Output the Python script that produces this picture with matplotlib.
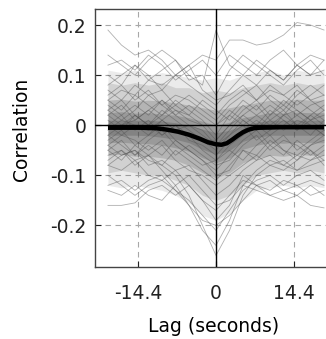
import numpy as np
import matplotlib
matplotlib.use('Agg')
import matplotlib.pyplot as plt

plt.rcParams['font.family'] = ['DejaVu Sans']
plt.rcParams['axes.unicode_minus'] = False

# lag grid (seconds) for the individual traces
lags = [-20, -17.5, -15, -12.5, -10, -7.5, -5, -2.5, 0, 2.5, 5, 7.5, 10, 12.5, 15, 17.5, 20]

# density bands of the trace cloud (outer to inner)
wide_hi = [0.11, 0.105, 0.11, 0.10, 0.105, 0.10, 0.095, 0.09, 0.095, 0.09, 0.10, 0.105, 0.11, 0.10, 0.11, 0.105, 0.11]
wide_lo = [-0.12, -0.125, -0.12, -0.125, -0.13, -0.14, -0.155, -0.18, -0.19, -0.175, -0.15, -0.13, -0.125, -0.12, -0.125, -0.12, -0.125]
outer_hi = [0.085, 0.08, 0.085, 0.08, 0.085, 0.075, 0.075, 0.065, 0.07, 0.065, 0.075, 0.08, 0.085, 0.08, 0.085, 0.08, 0.085]
outer_lo = [-0.095, -0.09, -0.095, -0.10, -0.10, -0.11, -0.12, -0.14, -0.15, -0.14, -0.12, -0.10, -0.095, -0.09, -0.095, -0.09, -0.095]
mid_hi = [0.05, 0.052, 0.048, 0.05, 0.048, 0.045, 0.04, 0.035, 0.03, 0.035, 0.04, 0.045, 0.05, 0.048, 0.052, 0.05, 0.05]
mid_lo = [-0.06, -0.058, -0.062, -0.062, -0.065, -0.07, -0.08, -0.095, -0.105, -0.095, -0.075, -0.065, -0.06, -0.062, -0.058, -0.06, -0.06]
core_hi = [0.025, 0.027, 0.024, 0.025, 0.022, 0.02, 0.015, 0.008, 0.0, 0.006, 0.015, 0.02, 0.025, 0.024, 0.026, 0.025, 0.025]
core_lo = [-0.035, -0.034, -0.036, -0.037, -0.04, -0.045, -0.052, -0.065, -0.075, -0.065, -0.048, -0.04, -0.035, -0.036, -0.034, -0.035, -0.035]
inner_hi = [0.01, 0.01, 0.01, 0.01, 0.008, 0.005, 0.0, -0.008, -0.015, -0.01, 0.0, 0.006, 0.01, 0.01, 0.01, 0.01, 0.01]
inner_lo = [-0.02, -0.02, -0.02, -0.021, -0.024, -0.028, -0.035, -0.048, -0.058, -0.05, -0.032, -0.024, -0.02, -0.02, -0.02, -0.02, -0.02]

# individual traces
traces = [
    [0.19, 0.16, 0.14, 0.15, 0.13, 0.10, 0.12, 0.07, 0.05, 0.06, 0.08, 0.05, 0.07, 0.06, 0.08, 0.05, 0.06],
    [0.05, 0.07, 0.06, 0.09, 0.08, 0.10, 0.12, 0.14, 0.13, 0.17, 0.17, 0.16, 0.165, 0.18, 0.205, 0.20, 0.19],
    [0.08, 0.10, 0.12, 0.09, 0.11, 0.13, 0.10, 0.08, 0.19, 0.12, 0.10, 0.13, 0.11, 0.09, 0.12, 0.10, 0.13],
    [0.12, 0.13, 0.11, 0.14, 0.12, 0.09, 0.11, 0.13, 0.10, 0.14, 0.12, 0.10, 0.13, 0.15, 0.12, 0.14, 0.13],
    [0.10, 0.08, 0.12, 0.10, 0.07, 0.10, 0.08, 0.06, 0.04, 0.07, 0.10, 0.08, 0.11, 0.09, 0.12, 0.10, 0.11],
    [0.14, 0.12, 0.10, 0.13, 0.15, 0.13, 0.09, 0.10, 0.06, 0.11, 0.14, 0.12, 0.10, 0.08, 0.11, 0.13, 0.10],
    [-0.04, -0.06, -0.05, -0.07, -0.08, -0.10, -0.14, -0.20, -0.26, -0.21, -0.14, -0.10, -0.08, -0.07, -0.09, -0.08, -0.07],
    [-0.06, -0.05, -0.07, -0.06, -0.09, -0.12, -0.16, -0.21, -0.24, -0.19, -0.12, -0.09, -0.07, -0.08, -0.06, -0.07, -0.05],
    [-0.08, -0.09, -0.07, -0.10, -0.11, -0.13, -0.15, -0.18, -0.21, -0.17, -0.13, -0.11, -0.10, -0.12, -0.10, -0.09, -0.11],
    [-0.16, -0.16, -0.155, -0.13, -0.12, -0.14, -0.12, -0.15, -0.17, -0.14, -0.11, -0.12, -0.13, -0.11, -0.12, -0.14, -0.13],
    [-0.13, -0.14, -0.12, -0.14, -0.15, -0.12, -0.10, -0.13, -0.16, -0.15, -0.12, -0.13, -0.14, -0.15, -0.14, -0.16, -0.165],
    [-0.12, -0.11, -0.13, -0.11, -0.10, -0.13, -0.16, -0.19, -0.20, -0.18, -0.15, -0.12, -0.11, -0.13, -0.14, -0.12, -0.14],
    [-0.10, -0.12, -0.14, -0.12, -0.11, -0.09, -0.12, -0.15, -0.19, -0.16, -0.10, -0.12, -0.14, -0.13, -0.12, -0.11, -0.12],
    [0.02, 0.04, 0.01, 0.03, 0.05, 0.02, 0.00, -0.02, -0.04, -0.01, 0.02, 0.04, 0.01, 0.03, 0.00, 0.02, 0.04],
    [-0.03, -0.01, -0.04, -0.02, 0.00, -0.03, -0.05, -0.07, -0.09, -0.06, -0.03, -0.01, -0.04, -0.02, -0.05, -0.03, -0.01],
    [0.05, 0.03, 0.06, 0.04, 0.02, 0.05, 0.03, 0.01, -0.02, 0.02, 0.05, 0.03, 0.06, 0.04, 0.07, 0.05, 0.03],
    [-0.05, -0.07, -0.04, -0.06, -0.08, -0.05, -0.07, -0.09, -0.11, -0.08, -0.05, -0.07, -0.04, -0.06, -0.03, -0.05, -0.07],
    [0.00, 0.02, -0.01, 0.01, -0.02, 0.00, -0.03, -0.04, -0.06, -0.03, -0.01, 0.01, -0.01, 0.02, 0.00, -0.02, 0.01],
    [0.03, 0.01, 0.03, 0.06, 0.04, 0.02, 0.04, 0.02, 0.00, 0.03, 0.01, -0.01, 0.02, 0.05, 0.03, 0.01, 0.03],
    [-0.02, -0.04, -0.06, -0.03, -0.01, -0.04, -0.06, -0.08, -0.07, -0.05, -0.07, -0.04, -0.02, -0.05, -0.07, -0.04, -0.02],
    [0.06, 0.08, 0.05, 0.07, 0.04, 0.06, 0.05, 0.03, 0.01, 0.04, 0.06, 0.08, 0.05, 0.03, 0.06, 0.08, 0.06],
    [-0.07, -0.05, -0.08, -0.06, -0.04, -0.07, -0.09, -0.10, -0.12, -0.10, -0.08, -0.06, -0.08, -0.09, -0.07, -0.05, -0.08],
    [0.01, -0.01, 0.02, 0.00, 0.03, 0.01, -0.01, -0.03, -0.03, 0.00, 0.02, 0.00, 0.03, 0.01, -0.01, 0.02, 0.00],
    [-0.01, 0.01, 0.00, -0.02, 0.01, -0.01, -0.02, -0.05, -0.07, -0.04, -0.02, 0.00, -0.02, 0.00, 0.02, 0.00, -0.02],
    [0.04, 0.02, 0.04, 0.02, 0.05, 0.03, 0.01, 0.00, -0.03, 0.00, 0.03, 0.05, 0.02, 0.04, 0.02, 0.04, 0.05],
    [-0.04, -0.02, -0.03, -0.05, -0.03, -0.06, -0.04, -0.06, -0.08, -0.07, -0.04, -0.02, -0.05, -0.03, -0.04, -0.06, -0.04],
    [0.07, 0.05, 0.08, 0.06, 0.07, 0.04, 0.06, 0.04, 0.02, 0.05, 0.07, 0.05, 0.08, 0.06, 0.04, 0.06, 0.08],
    [-0.08, -0.06, -0.05, -0.08, -0.07, -0.09, -0.08, -0.11, -0.14, -0.12, -0.09, -0.07, -0.06, -0.08, -0.09, -0.07, -0.06],
    [0.02, 0.00, 0.01, 0.03, 0.01, 0.03, 0.02, 0.00, 0.00, 0.02, 0.00, 0.02, 0.04, 0.02, 0.03, 0.01, 0.02],
    [-0.02, 0.00, 0.02, 0.00, -0.02, 0.00, -0.02, -0.03, -0.05, -0.02, 0.00, -0.03, -0.01, 0.01, -0.01, 0.01, -0.01],
    [0.03, 0.05, 0.02, 0.00, 0.02, 0.04, 0.02, 0.05, 0.03, 0.01, 0.04, 0.02, 0.00, 0.02, 0.05, 0.03, 0.01],
    [-0.05, -0.03, -0.06, -0.04, -0.06, -0.03, -0.05, -0.07, -0.10, -0.09, -0.05, -0.06, -0.03, -0.05, -0.06, -0.04, -0.03],
    [0.00, -0.02, 0.00, -0.01, 0.01, -0.01, 0.00, -0.01, -0.04, -0.02, 0.01, -0.01, 0.01, -0.01, 0.01, 0.00, -0.02],
]

# mean cross-correlation
mean_lags = [-20, -14, -11, -9, -7, -5, -3, -1.5, 0, 1, 2, 3, 4, 5, 6, 7, 8, 12, 20]
mean_corr = [-0.005, -0.005, -0.006, -0.009, -0.013, -0.019, -0.027, -0.034, -0.038, -0.039,
             -0.036, -0.029, -0.021, -0.014, -0.009, -0.006, -0.005, -0.004, -0.004]

xticks = [-14.4, 0, 14.4]
xticklabels = ['-14.4', '0', '14.4']
yticks = [-0.2, -0.1, 0, 0.1, 0.2]
yticklabels = ['-0.2', '-0.1', '0', '0.1', '0.2']

fig = plt.figure(figsize=(3.26, 3.39), dpi=100)
ax = fig.add_axes([95 / 326, 1 - 267 / 339, 242 / 326, 258 / 339])

bands = [(wide_lo, wide_hi), (outer_lo, outer_hi), (mid_lo, mid_hi),
         (core_lo, core_hi), (inner_lo, inner_hi)]
band_alpha = [0.10, 0.15, 0.20, 0.22, 0.25]
for (lo, hi), a in zip(bands, band_alpha):
    ax.fill_between(lags, lo, hi, color='#404040', alpha=a, lw=0, zorder=1)

for tr in traces:
    ax.plot(lags, tr, color='#505050', lw=0.6, alpha=0.45, zorder=2)

ax.axhline(0, color='black', lw=1, zorder=3)
ax.axvline(0, color='black', lw=1, zorder=3)
ax.plot(mean_lags, mean_corr, color='black', lw=3.2, solid_capstyle='butt', zorder=4)

ax.set_xlim(-22.4, 22.4)
ax.set_ylim(-0.283, 0.232)
ax.set_xticks(xticks)
ax.set_xticklabels(xticklabels)
ax.set_yticks(yticks)
ax.set_yticklabels(yticklabels)
ax.grid(True, ls=(0, (5, 4)), color='#a8a8a8', lw=0.8, zorder=0)
ax.set_axisbelow(True)
ax.tick_params(direction='in', length=4, width=0.8, labelsize=13.5, colors='#222222')
ax.tick_params(axis='x', pad=12)
ax.tick_params(axis='y', pad=6)
for s in ax.spines.values():
    s.set_color('#444444')
    s.set_linewidth(1.0)

fig.text(22 / 326, 1 - 129 / 339, 'Correlation', rotation=90, ha='center', va='center', fontsize=13.5)
fig.text(214 / 326, 1 - 327 / 339, 'Lag (seconds)', ha='center', va='center', fontsize=13.5)

fig.savefig('out.png', dpi=100)
